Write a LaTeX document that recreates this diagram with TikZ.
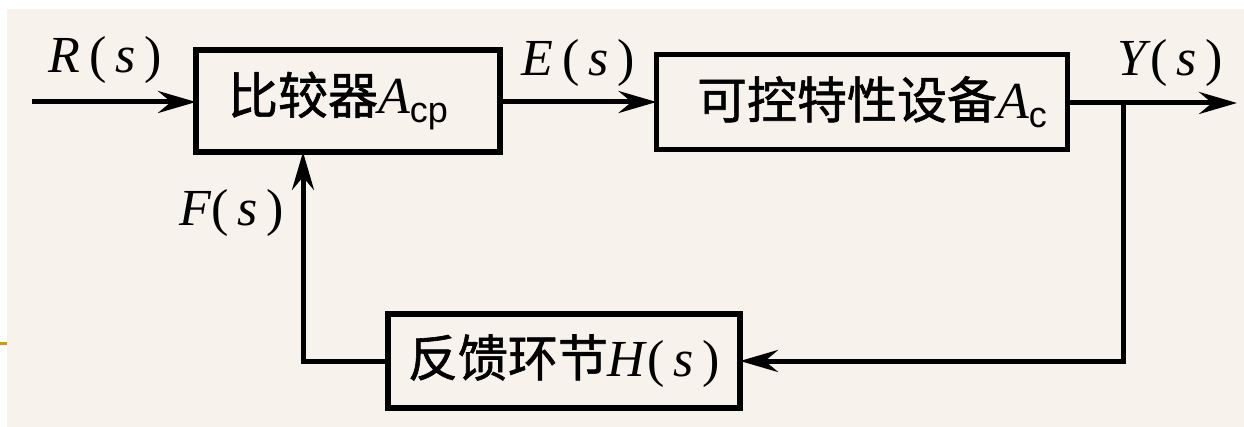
\documentclass[tikz,border=0pt]{standalone}
\usepackage{fontspec}
\setmainfont{Liberation Serif}
\newfontfamily\cjk[FakeBold=1.2]{Noto Sans CJK SC}
\newfontfamily\subfont{Liberation Sans}
\usetikzlibrary{arrows.meta,calc}
\definecolor{bg}{HTML}{F7F2EC}
\definecolor{tickorange}{HTML}{D49A00}
\newcommand{\cj}{\fontsize{50}{56}\selectfont\cjk}
\newcommand{\lt}{\rmfamily\fontsize{52}{58}\selectfont}
\newcommand{\sbs}[1]{\raisebox{-9pt}{\upshape\subfont\fontsize{36}{40}\selectfont #1}}
\begin{document}
\begin{tikzpicture}[x=1pt,y=-1pt,
  blk/.style={draw,line width=5.5pt,inner sep=0pt,outer sep=0pt},
  arr/.style={line width=5pt,-{Stealth[length=38pt,width=22pt,inset=13pt]}},
  lbl/.style={inner sep=0pt,font=\lt}]
\useasboundingbox (0,0) rectangle (1244,427);
\fill[bg] (7,9) rectangle (1244,427);
\fill[tickorange] (0,342) rectangle (7,345);
\node[blk,minimum width=304pt,minimum height=102pt] (b1) at (348,101)
  {\hspace*{-20pt}\cj 比较器\lt\textit{A}\sbs{cp}};
\node[blk,minimum width=411pt,minimum height=95pt] (b2) at (862,102)
  {\hspace*{20pt}\cj 可控特性设备\lt\textit{A}\sbs{c}};
\node[blk,minimum width=352pt,minimum height=94pt] (b3) at (564,361)
  {\cj 反馈环节\lt\textit{H}(\,\textit{s}\,)};
\coordinate (in) at (32,102);
\coordinate (out) at (1237,103);
\coordinate (br) at (1123,103);
\coordinate (fx) at (303,0);
\draw[arr] (in) -- (in -| b1.west);
\draw[arr] (b1.east |- 0,102) -- (b2.west |- 0,102);
\draw[arr] (b2.east |- out) -- (out);
\draw[arr] (br) |- (b3.east);
\draw[arr] (b3.west) -| (b1.south -| fx);
\node[lbl] (R) at (105,60) {\textit{R}\,(\,\textit{s}\,)};
\node[lbl] (E) at (578,63) {\textit{E}\,(\,\textit{s}\,)};
\node[lbl] (Y) at (1170,63) {\textit{Y}(\,\textit{s}\,)};
\node[lbl] (F) at (232,213) {\textit{F}(\,\textit{s}\,)};
\end{tikzpicture}
\end{document}
